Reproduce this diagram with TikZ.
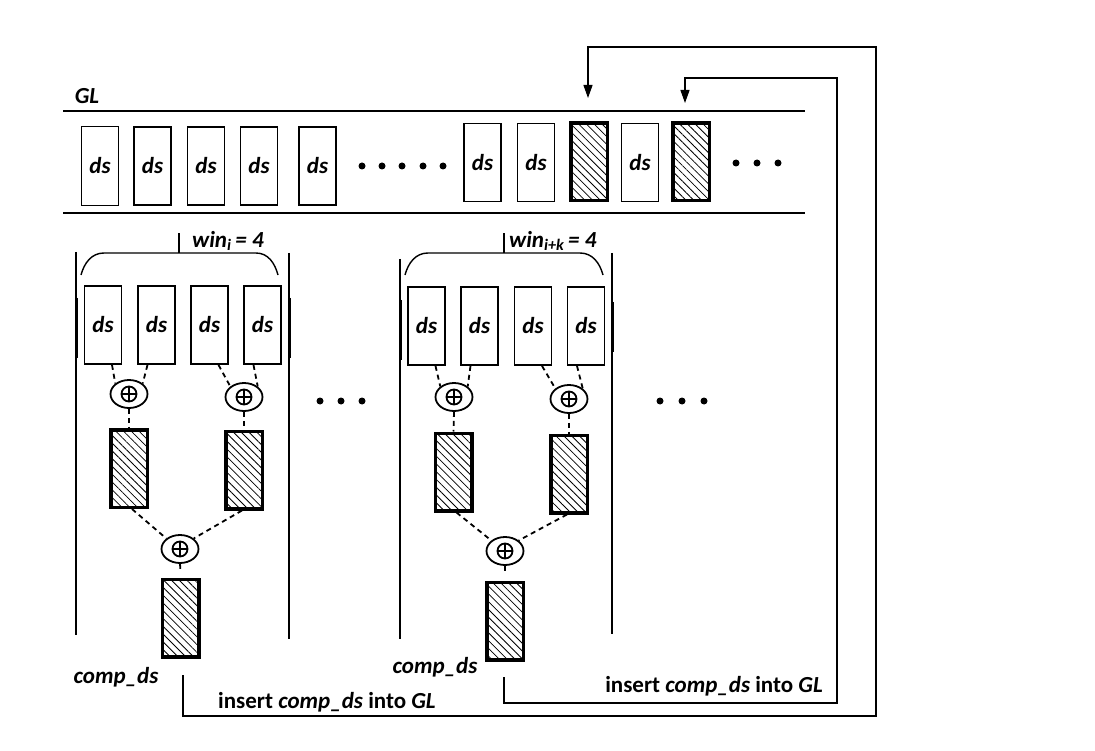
\documentclass[tikz,border=0pt]{standalone}
\usepackage{fontspec}
\setmainfont{Carlito}
\usetikzlibrary{shapes.geometric,patterns.meta,arrows.meta}
\begin{document}
\begin{tikzpicture}[x=1pt,y=-1pt,
  txt/.style={font=\fontsize{23}{27}\selectfont\bfseries, inner sep=0},
  itx/.style={font=\fontsize{23}{27}\selectfont\bfseries\itshape, inner sep=0},
  dsbox/.style={draw, line width=1.8pt, minimum width=37pt, minimum height=78pt, inner sep=0, font=\fontsize{23}{27}\selectfont\bfseries\itshape},
  hbox/.style={draw, line width=3.5pt, minimum width=36.5pt, minimum height=77.5pt, inner sep=0,
    pattern={Lines[angle=-45,distance=5.5pt,line width=0.8pt]}},
  opl/.style={ellipse, draw, line width=1.8pt, minimum width=37pt, minimum height=28pt, inner sep=0,
    path picture={
      \draw[line width=1.8pt] (path picture bounding box.center) circle[radius=7.5pt];
      \draw[line width=1.8pt] ([xshift=-7.5pt]path picture bounding box.center) -- ([xshift=7.5pt]path picture bounding box.center);
      \draw[line width=1.8pt] ([yshift=-7.5pt]path picture bounding box.center) -- ([yshift=7.5pt]path picture bounding box.center);
    }},
  thin/.style={line width=1.4pt},
  dsh/.style={line width=1.8pt, dash pattern=on 5pt off 4pt},
  arr/.style={line width=1.2pt, -{Triangle[length=13pt,width=9pt]}},
  dot/.style={circle, fill, inner sep=0, minimum size=7pt}
]
\useasboundingbox (0,0) rectangle (1095,751);

% GL band
\node[itx] (gl) at (87,96) {GL};
\coordinate (gtl) at (63,111); \coordinate (gtr) at (805,111);
\coordinate (gbl) at (63,213); \coordinate (gbr) at (805,213);
\draw[thin] (gtl) -- (gtr);
\draw[thin] (gbl) -- (gbr);
\draw[line width=2.5pt] (74,213) -- (127,213);
\draw[line width=2pt] (562,213) -- (617,213);

\node[dsbox, minimum height=79pt] (g1) at (100,166) {ds};
\node[dsbox] (g2) at (152.5,166) {ds};
\node[dsbox] (g3) at (206,166) {ds};
\node[dsbox] (g4) at (259,166) {ds};
\node[dsbox] (g5) at (317.5,166) {ds};
\foreach \i/\x in {1/362,2/382,3/402,4/423,5/443} \node[dot] (gd\i) at (\x,166) {};
\node[dsbox] (g6) at (482.5,162.5) {ds};
\node[dsbox] (g7) at (536,162.5) {ds};
\node[hbox] (gh1) at (589,162) {};
\node[dsbox] (g8) at (640,162.5) {ds};
\node[hbox] (gh2) at (691,162) {};
\foreach \i/\x in {1/736,2/757,3/778} \node[dot] (ge\i) at (\x,163) {};

% ---------- window 1
\draw[thin] (76,252) -- (76,635);
\draw[thin] (289,253) -- (289,639);
\draw[line width=3pt] (76,298) -- (76,358);
\draw[line width=3pt] (289,298) -- (289,358);
\draw[thin] (81,275) to[out=75,in=180] (104,253) -- (256,253) to[out=0,in=105] (278,275);
\draw[thin] (179,253) -- (179,233);
\node[itx, anchor=west] (win1) at (192,241) {win\textsubscript{i}\,= 4};

\node[dsbox] (w1a) at (103,325) {ds};
\node[dsbox] (w1b) at (156.5,325) {ds};
\node[dsbox] (w1c) at (209.5,325) {ds};
\node[dsbox] (w1d) at (262.5,325) {ds};
\node[opl] (w1e1) at (129,394) {};
\node[opl] (w1e2) at (244,397) {};
\node[hbox] (w1h1) at (129,468.5) {};
\node[hbox] (w1h2) at (244,470) {};
\node[opl] (w1e3) at (180,549) {};
\node[hbox] (w1h3) at (180.5,618) {};
\draw[dsh] ([xshift=9pt]w1a.south) -- (w1e1.north west);
\draw[dsh] ([xshift=-9pt]w1b.south) -- (w1e1.north east);
\draw[dsh] ([xshift=9pt]w1c.south) -- (w1e2.north west);
\draw[dsh] ([xshift=-9pt]w1d.south) -- (w1e2.north east);
\draw[dsh] (w1e1.south) -- (w1h1.north);
\draw[dsh] (w1e2.south) -- (w1h2.north);
\draw[dsh] ([xshift=3pt]w1h1.south) -- (w1e3.north west);
\draw[dsh] ([xshift=-2pt]w1h2.south) -- (w1e3.north east);
\draw[dsh] (w1e3.south) -- ([yshift=6pt]w1h3.north);
\node[itx] (cd1) at (116,677) {comp\_ds};

% middle dots
\foreach \i/\x in {1/320,2/341,3/362} \node[dot] (md\i) at (\x,401) {};

% ---------- window 2
\draw[thin] (400,259) -- (400,639);
\draw[thin] (612,253) -- (612,634);
\draw[line width=3pt] (400,300) -- (400,360);
\draw[line width=3pt] (612,302) -- (612,352);
\draw[thin] (405,275) to[out=75,in=180] (428,253) -- (580,253) to[out=0,in=105] (603,275);
\draw[thin] (504,253) -- (504,233);
\node[itx, anchor=west] (win2) at (509,241) {win\textsubscript{i+k}\,= 4};

\node[dsbox] (w2a) at (426.5,326) {ds};
\node[dsbox] (w2b) at (479.5,326) {ds};
\node[dsbox] (w2c) at (533,326) {ds};
\node[dsbox] (w2d) at (586,326) {ds};
\node[opl] (w2e1) at (454,397) {};
\node[opl] (w2e2) at (569,399) {};
\node[hbox] (w2h1) at (453.5,472) {};
\node[hbox] (w2h2) at (569,474) {};
\node[opl] (w2e3) at (505,551) {};
\node[hbox] (w2h3) at (505,621) {};
\draw[dsh] ([xshift=9pt]w2a.south) -- (w2e1.north west);
\draw[dsh] ([xshift=-9pt]w2b.south) -- (w2e1.north east);
\draw[dsh] ([xshift=9pt]w2c.south) -- (w2e2.north west);
\draw[dsh] ([xshift=-9pt]w2d.south) -- (w2e2.north east);
\draw[dsh] (w2e1.south) -- (w2h1.north);
\draw[dsh] (w2e2.south) -- (w2h2.north);
\draw[dsh] ([xshift=3pt]w2h1.south) -- (w2e3.north west);
\draw[dsh] ([xshift=-2pt]w2h2.south) -- (w2e3.north east);
\draw[dsh] (w2e3.south) -- ([yshift=6pt]w2h3.north);
\node[itx] (cd2) at (435,667) {comp\_ds};

\foreach \i/\x in {1/660,2/682,3/704} \node[dot] (rd\i) at (\x,401) {};

% ---------- feedback arrows
\coordinate (s1) at (183,675);
\coordinate (t1) at (588,98);
\draw[arr] (s1) -- (183,716) -- (876,716) -- (876,47) -- (588,47) -- (t1);
\node[txt, anchor=west] (ins1) at (218,702) {insert \textit{comp\_ds} into \textit{GL}};

\coordinate (s2) at (504,677);
\coordinate (t2) at (685,103);
\draw[arr] (s2) -- (504,703) -- (837,703) -- (837,78) -- (685,78) -- (t2);
\node[txt, anchor=east] (ins2) at (823,686) {insert \textit{comp\_ds} into \textit{GL}};
\end{tikzpicture}
\end{document}
